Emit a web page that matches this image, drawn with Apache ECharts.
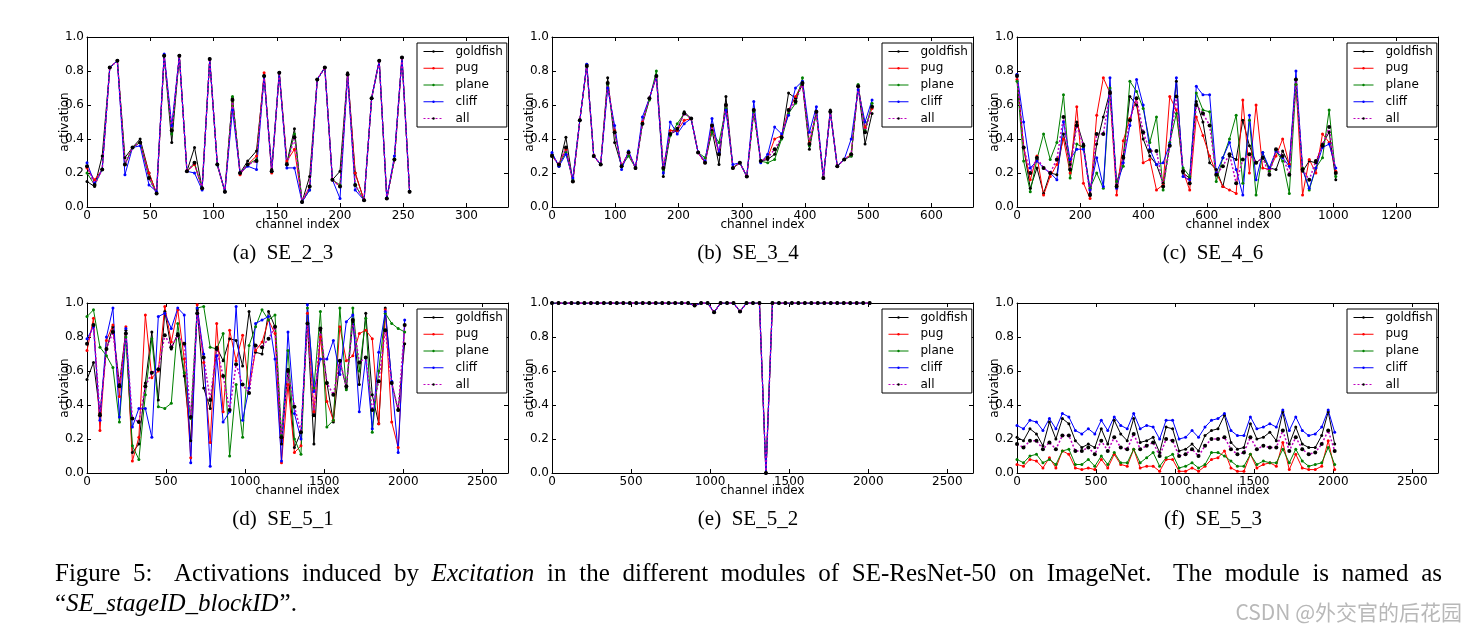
<!DOCTYPE html>
<html><head><meta charset="utf-8">
<script src="https://cdn.jsdelivr.net/npm/echarts@6/dist/echarts.min.js"></script>
<style>html,body{margin:0;padding:0;background:#fff}#c{width:1475px;height:631px}</style>
</head><body><div id="c"></div><script>
// ---------- channel indices (x) ----------
const chA = [0,6,12,18,24,30,36,42,49,55,61,67,73,79,85,91,97,103,109,115,121,127,134,140,146,152,158,164,170,176,182,188,194,200,206,212,219,225,231,237,243,249,255];
const chB = [0,11,22,33,44,55,66,77,88,99,110,121,132,143,154,165,176,187,198,209,220,231,242,253,264,275,286,297,308,319,330,341,352,363,374,385,396,407,418,429,440,451,462,473,484,495,506];
const chC = [0,21,42,63,84,105,126,147,168,189,210,231,252,273,294,315,336,357,378,399,420,441,462,483,504,525,546,567,588,609,630,651,672,693,714,735,756,777,798,819,840,861,882,903,924,945,966,987,1008];
const chD = [0,41,82,123,164,205,246,287,328,369,410,451,492,533,574,615,656,697,738,779,820,861,902,943,984,1025,1066,1107,1148,1189,1230,1271,1312,1353,1394,1435,1476,1517,1558,1599,1640,1681,1722,1763,1804,1845,1886,1927,1968,2009];

// ---------- (a) SE_2_3 ----------
const goldfishA = [0.15,0.12,0.30,0.82,0.86,0.29,0.35,0.40,0.20,0.08,0.89,0.38,0.89,0.21,0.35,0.11,0.87,0.25,0.09,0.64,0.20,0.27,0.33,0.77,0.22,0.79,0.26,0.46,0.03,0.18,0.75,0.82,0.16,0.21,0.79,0.20,0.04,0.64,0.86,0.05,0.28,0.88,0.09];
const pugA      = [0.23,0.16,0.22,0.82,0.86,0.25,0.35,0.38,0.20,0.08,0.89,0.45,0.89,0.21,0.25,0.11,0.87,0.25,0.09,0.63,0.19,0.25,0.30,0.79,0.20,0.79,0.27,0.34,0.03,0.12,0.75,0.82,0.16,0.12,0.78,0.20,0.04,0.64,0.86,0.05,0.28,0.88,0.09];
const planeA    = [0.20,0.13,0.22,0.82,0.86,0.25,0.35,0.38,0.17,0.08,0.89,0.43,0.89,0.21,0.26,0.11,0.87,0.25,0.09,0.65,0.20,0.25,0.28,0.77,0.21,0.79,0.25,0.43,0.03,0.10,0.75,0.82,0.16,0.13,0.78,0.13,0.04,0.64,0.86,0.05,0.28,0.88,0.09];
const cliffA    = [0.26,0.14,0.22,0.82,0.86,0.19,0.35,0.36,0.13,0.09,0.90,0.48,0.89,0.21,0.20,0.10,0.87,0.25,0.09,0.57,0.20,0.24,0.22,0.77,0.21,0.79,0.23,0.23,0.03,0.10,0.75,0.82,0.16,0.05,0.78,0.10,0.04,0.64,0.86,0.05,0.30,0.88,0.09];
const allA      = [0.24,0.13,0.22,0.82,0.86,0.25,0.35,0.38,0.17,0.08,0.89,0.45,0.89,0.21,0.26,0.11,0.87,0.25,0.09,0.63,0.20,0.25,0.27,0.77,0.21,0.79,0.25,0.41,0.03,0.12,0.75,0.82,0.16,0.12,0.78,0.13,0.04,0.64,0.86,0.05,0.28,0.88,0.09];

// ---------- (b) SE_3_4 ----------
const goldfishB = [0.31,0.24,0.41,0.15,0.51,0.84,0.30,0.25,0.76,0.38,0.24,0.32,0.23,0.49,0.64,0.77,0.18,0.43,0.45,0.56,0.52,0.32,0.26,0.45,0.25,0.65,0.23,0.26,0.18,0.57,0.27,0.28,0.31,0.41,0.67,0.64,0.72,0.34,0.56,0.17,0.57,0.24,0.28,0.30,0.71,0.37,0.55];
const pugB      = [0.30,0.25,0.34,0.15,0.51,0.83,0.30,0.25,0.73,0.45,0.24,0.32,0.23,0.50,0.64,0.77,0.23,0.45,0.45,0.51,0.52,0.32,0.26,0.48,0.31,0.60,0.23,0.26,0.18,0.57,0.27,0.29,0.40,0.42,0.57,0.65,0.73,0.38,0.56,0.17,0.56,0.24,0.28,0.31,0.71,0.47,0.58];
const planeB    = [0.30,0.25,0.32,0.16,0.51,0.83,0.30,0.25,0.72,0.44,0.24,0.30,0.23,0.49,0.63,0.80,0.22,0.42,0.49,0.55,0.52,0.32,0.29,0.44,0.38,0.58,0.23,0.26,0.18,0.56,0.27,0.26,0.28,0.40,0.55,0.61,0.76,0.36,0.56,0.17,0.56,0.24,0.28,0.30,0.72,0.45,0.61];
const cliffB    = [0.32,0.24,0.31,0.17,0.51,0.84,0.30,0.25,0.70,0.48,0.22,0.33,0.23,0.53,0.64,0.77,0.20,0.50,0.43,0.49,0.52,0.32,0.27,0.52,0.32,0.57,0.25,0.26,0.18,0.62,0.26,0.31,0.47,0.43,0.54,0.70,0.74,0.44,0.59,0.17,0.56,0.24,0.28,0.40,0.69,0.50,0.63];
const allB      = [0.30,0.25,0.35,0.15,0.51,0.83,0.30,0.25,0.73,0.44,0.24,0.32,0.23,0.49,0.64,0.77,0.23,0.43,0.46,0.55,0.52,0.32,0.26,0.48,0.31,0.60,0.23,0.26,0.18,0.57,0.27,0.29,0.34,0.41,0.57,0.62,0.73,0.37,0.56,0.17,0.56,0.24,0.28,0.31,0.71,0.44,0.59];

// ---------- (c) SE_4_6 ----------
const goldfishC = [0.78,0.35,0.11,0.23,0.08,0.20,0.19,0.43,0.25,0.50,0.37,0.08,0.37,0.53,0.68,0.13,0.30,0.65,0.60,0.40,0.30,0.25,0.14,0.36,0.74,0.20,0.17,0.62,0.50,0.26,0.22,0.12,0.30,0.28,0.51,0.36,0.26,0.29,0.23,0.22,0.33,0.25,0.75,0.21,0.27,0.26,0.37,0.44,0.16];
const pugC      = [0.75,0.35,0.16,0.30,0.07,0.18,0.25,0.40,0.20,0.59,0.14,0.05,0.54,0.76,0.67,0.07,0.39,0.52,0.64,0.26,0.28,0.10,0.13,0.65,0.57,0.21,0.10,0.53,0.42,0.30,0.20,0.12,0.10,0.08,0.63,0.20,0.60,0.23,0.22,0.30,0.40,0.25,0.72,0.07,0.28,0.20,0.43,0.38,0.21];
const planeC    = [0.74,0.27,0.09,0.28,0.43,0.28,0.38,0.66,0.17,0.37,0.35,0.11,0.20,0.11,0.70,0.15,0.24,0.74,0.68,0.58,0.38,0.53,0.10,0.38,0.55,0.23,0.18,0.67,0.57,0.56,0.15,0.29,0.40,0.54,0.14,0.51,0.07,0.32,0.21,0.33,0.27,0.08,0.72,0.23,0.10,0.23,0.29,0.57,0.18];
const cliffC    = [0.78,0.50,0.23,0.27,0.23,0.20,0.16,0.50,0.28,0.34,0.34,0.10,0.29,0.12,0.76,0.11,0.26,0.48,0.75,0.60,0.34,0.25,0.26,0.37,0.76,0.18,0.16,0.71,0.66,0.66,0.20,0.29,0.38,0.22,0.07,0.54,0.16,0.32,0.23,0.33,0.29,0.24,0.80,0.22,0.11,0.23,0.35,0.37,0.23];
const allC      = [0.77,0.35,0.20,0.29,0.23,0.20,0.28,0.53,0.22,0.48,0.36,0.07,0.43,0.43,0.67,0.12,0.29,0.51,0.64,0.44,0.33,0.33,0.12,0.36,0.65,0.21,0.14,0.60,0.55,0.48,0.19,0.24,0.31,0.14,0.28,0.31,0.26,0.29,0.19,0.34,0.30,0.19,0.75,0.22,0.16,0.27,0.36,0.47,0.20];

// ---------- (d) SE_5_1 ----------
const goldfishD = [0.55,0.65,0.35,0.73,0.86,0.52,0.84,0.12,0.17,0.53,0.83,0.43,0.95,0.73,0.82,0.57,0.19,0.96,0.50,0.38,0.74,0.66,0.79,0.78,0.63,0.95,0.71,0.70,0.95,0.86,0.17,0.61,0.15,0.24,0.88,0.17,0.84,0.53,0.30,0.66,0.50,0.89,0.52,0.94,0.46,0.29,0.97,0.53,0.37,0.76];
const pugD      = [0.72,0.91,0.25,0.78,0.87,0.45,0.86,0.07,0.21,0.93,0.56,0.60,0.98,0.77,0.96,0.67,0.09,0.99,0.65,0.18,0.88,0.36,0.84,0.66,0.81,0.50,0.72,0.77,0.90,0.82,0.06,0.52,0.12,0.16,0.94,0.36,0.80,0.42,0.31,0.86,0.66,0.69,0.82,0.84,0.79,0.29,0.96,0.30,0.15,0.87];
const planeD    = [0.92,0.96,0.74,0.69,0.62,0.30,0.80,0.16,0.08,0.46,0.79,0.39,0.38,0.41,0.88,0.59,0.32,0.97,0.98,0.74,0.73,0.82,0.10,0.52,0.21,0.75,0.86,0.96,0.90,0.93,0.22,0.72,0.20,0.11,0.97,0.50,0.95,0.27,0.31,0.97,0.49,0.97,0.60,0.91,0.24,0.60,0.94,0.88,0.85,0.83];
const cliffD    = [0.79,0.86,0.31,0.80,0.97,0.33,0.85,0.27,0.38,0.38,0.21,0.92,0.94,0.85,0.97,0.93,0.06,0.97,0.70,0.04,0.69,0.30,0.36,0.98,0.31,0.50,0.88,0.90,0.92,0.67,0.07,0.83,0.35,0.20,0.99,0.48,0.67,0.67,0.78,0.58,0.89,0.93,0.36,0.68,0.26,0.71,0.95,0.54,0.12,0.90];
const allD      = [0.76,0.87,0.34,0.73,0.83,0.51,0.82,0.32,0.30,0.51,0.59,0.61,0.81,0.74,0.81,0.76,0.33,0.94,0.68,0.43,0.73,0.57,0.37,0.64,0.52,0.47,0.75,0.74,0.79,0.86,0.21,0.60,0.39,0.24,0.88,0.34,0.85,0.53,0.46,0.66,0.51,0.90,0.65,0.68,0.37,0.54,0.84,0.53,0.37,0.87];

// ---------- (e) SE_5_2 (all five classes coincide) ----------
const sharedE   = [1.00,1.00,1.00,1.00,1.00,1.00,1.00,1.00,1.00,1.00,1.00,1.00,1.00,1.00,1.00,1.00,1.00,1.00,1.00,1.00,1.00,1.00,0.985,1.00,1.00,0.945,1.00,1.00,1.00,0.95,1.00,1.00,1.00,0.00,1.00,1.00,1.00,1.00,1.00,1.00,1.00,1.00,1.00,1.00,1.00,1.00,1.00,1.00,1.00,1.00];

// ---------- (f) SE_5_3 ----------
const goldfishF = [0.21,0.19,0.26,0.23,0.16,0.30,0.20,0.32,0.29,0.19,0.15,0.17,0.15,0.26,0.17,0.31,0.23,0.19,0.32,0.18,0.19,0.21,0.12,0.27,0.26,0.13,0.14,0.17,0.13,0.22,0.25,0.26,0.34,0.18,0.14,0.15,0.29,0.20,0.21,0.24,0.19,0.36,0.17,0.27,0.17,0.15,0.15,0.22,0.36,0.17];
const pugF      = [0.05,0.04,0.08,0.07,0.03,0.09,0.03,0.13,0.11,0.03,0.02,0.03,0.02,0.08,0.03,0.11,0.05,0.04,0.14,0.03,0.04,0.04,0.01,0.08,0.08,0.01,0.01,0.03,0.01,0.04,0.08,0.09,0.13,0.03,0.01,0.01,0.11,0.03,0.05,0.06,0.04,0.18,0.02,0.11,0.03,0.02,0.02,0.04,0.19,0.02];
const planeF    = [0.08,0.06,0.10,0.11,0.06,0.08,0.05,0.13,0.14,0.05,0.05,0.08,0.04,0.10,0.05,0.12,0.06,0.06,0.14,0.06,0.09,0.12,0.04,0.09,0.11,0.03,0.04,0.06,0.03,0.05,0.12,0.12,0.10,0.07,0.04,0.04,0.11,0.05,0.07,0.06,0.06,0.14,0.06,0.14,0.07,0.04,0.05,0.06,0.15,0.05];
const cliffF    = [0.28,0.26,0.31,0.30,0.25,0.32,0.26,0.35,0.33,0.25,0.23,0.26,0.23,0.31,0.25,0.33,0.28,0.26,0.35,0.26,0.28,0.27,0.20,0.31,0.31,0.20,0.21,0.25,0.21,0.27,0.31,0.32,0.35,0.25,0.22,0.22,0.33,0.26,0.27,0.29,0.27,0.37,0.25,0.33,0.25,0.22,0.23,0.27,0.37,0.24];
const allF      = [0.17,0.15,0.19,0.19,0.14,0.18,0.14,0.22,0.22,0.13,0.13,0.15,0.11,0.19,0.13,0.21,0.15,0.14,0.23,0.14,0.16,0.18,0.10,0.20,0.19,0.10,0.11,0.14,0.10,0.16,0.20,0.20,0.21,0.14,0.11,0.12,0.21,0.14,0.16,0.15,0.15,0.25,0.13,0.21,0.14,0.11,0.12,0.17,0.25,0.13];

const seriesNames = ['goldfish','pug','plane','cliff','all'];
const subCaptions = ['(a)  SE_2_3','(b)  SE_3_4','(c)  SE_4_6','(d)  SE_5_1','(e)  SE_5_2','(f)  SE_5_3'];
const xMaxes = [332.8, 665.6, 1331.2, 2662.4, 2662.4, 2662.4];
const xIntervals = [50, 100, 200, 500, 500, 500];

const panels = [
  {x: chA, vals: [goldfishA, pugA, planeA, cliffA, allA]},
  {x: chB, vals: [goldfishB, pugB, planeB, cliffB, allB]},
  {x: chC, vals: [goldfishC, pugC, planeC, cliffC, allC]},
  {x: chD, vals: [goldfishD, pugD, planeD, cliffD, allD]},
  {x: chD, vals: [sharedE, sharedE, sharedE, sharedE, sharedE]},
  {x: chD, vals: [goldfishF, pugF, planeF, cliffF, allF]}
];

const styles = {
  goldfish: {line: '#000000', dot: '#000000', type: 'solid', w: 1, s: 3},
  pug:      {line: '#ff0000', dot: '#ff0000', type: 'solid', w: 1, s: 3},
  plane:    {line: '#008000', dot: '#008000', type: 'solid', w: 1, s: 3},
  cliff:    {line: '#0000ff', dot: '#0000ff', type: 'solid', w: 1, s: 3},
  all:      {line: '#bf00bf', dot: '#000000', type: [2, 2], w: 1.5, s: 4}
};

const lefts = [87, 552, 1017], tops = [37, 303], W = 421, H = 170;
const TF = 'DejaVu Sans';
const grid = [], xAxis = [], yAxis = [], series = [], legend = [], graphic = [];

panels.forEach((p, k) => {
  const col = k % 3, row = Math.floor(k / 3);
  const left = lefts[col], top = tops[row];
  grid.push({left: left, top: top, width: W, height: H});
  const axisLine = {show: true, onZero: false, lineStyle: {color: '#000', width: 1}};
  const tick = {show: true, inside: true, length: 4, lineStyle: {color: '#000', width: 1}};
  const common = {gridIndex: k, type: 'value', axisLine: axisLine, axisTick: tick, splitLine: {show: false}};
  xAxis.push(Object.assign({}, common, {
    position: 'bottom', min: 0, max: xMaxes[k], interval: xIntervals[k],
    axisLabel: {margin: 3, color: '#000', fontSize: 12, fontFamily: TF, showMaxLabel: false, formatter: v => String(v)},
    name: 'channel index', nameLocation: 'middle', nameGap: 12, nameMoveOverlap: false,
    nameTextStyle: {color: '#000', fontSize: 12, fontFamily: TF}
  }));
  xAxis.push(Object.assign({}, common, {
    position: 'top', min: 0, max: xMaxes[k], interval: xIntervals[k], axisLabel: {show: false}
  }));
  yAxis.push(Object.assign({}, common, {
    position: 'left', min: 0, max: 1, interval: 0.2,
    axisLabel: {margin: 3, color: '#000', fontSize: 12, fontFamily: TF, formatter: v => v.toFixed(1)},
    name: 'activation', nameLocation: 'middle', nameGap: 16, nameMoveOverlap: false,
    nameTextStyle: {color: '#000', fontSize: 12, fontFamily: TF}
  }));
  yAxis.push(Object.assign({}, common, {
    position: 'right', min: 0, max: 1, interval: 0.2, axisLabel: {show: false}
  }));
  seriesNames.forEach((n, s) => {
    const st = styles[n];
    series.push({
      type: 'line', name: n, xAxisIndex: 2 * k, yAxisIndex: 2 * k,
      data: p.x.map((c, i) => [c, p.vals[s][i]]),
      symbol: 'circle', symbolSize: st.s, showSymbol: true,
      lineStyle: {color: st.line, width: st.w, type: st.type},
      itemStyle: {color: st.dot, borderWidth: 0},
      emphasis: {disabled: true}, silent: true, animation: false
    });
  });
  legend.push({
    left: left + 330, top: top + 6, orient: 'vertical',
    itemWidth: 20, itemHeight: 3, itemGap: 4.75,
    padding: [2.5, 4, 2.5, 6], borderColor: '#000', borderWidth: 1, backgroundColor: '#fff',
    lineStyle: {width: 1}, itemStyle: {borderWidth: 0},
    textStyle: {fontSize: 12, fontFamily: TF, color: '#000', padding: [0, 0, 0, 7], lineHeight: 12},
    selectedMode: false, data: seriesNames
  });
  graphic.push({
    type: 'text', x: left + 196, y: top + H + 46, silent: true,
    style: {text: subCaptions[k], fontSize: 21, fontFamily: 'Liberation Serif', fill: '#000', align: 'center', verticalAlign: 'middle'}
  });
});

// ---------- figure caption (justified first line) ----------
const CF = 25;
const ctx = document.createElement('canvas').getContext('2d');
function mw(t, it) { ctx.font = (it ? 'italic ' : '') + CF + 'px "Liberation Serif"'; return ctx.measureText(t).width; }
const line1 = [['Figure',0,1],['5:',0,1.7],['Activations',0,1],['induced',0,1],['by',0,1],['Excitation',1,1],['in',0,1],['the',0,1],['different',0,1],['modules',0,1],['of',0,1],['SE-ResNet-50',0,1],['on',0,1],['ImageNet.',0,1.7],['The',0,1],['module',0,1],['is',0,1],['named',0,1],['as',0,0]];
const L1x0 = 55, L1x1 = 1442;
let wsum = 0, gsum = 0;
line1.forEach(w => { wsum += mw(w[0], w[1]); gsum += w[2]; });
const unit = (L1x1 - L1x0 - wsum) / gsum;
let cx = L1x0;
line1.forEach(w => {
  graphic.push({type: 'text', x: cx, y: 574, silent: true,
    style: {text: w[0], fontSize: CF, fontFamily: 'Liberation Serif', fontStyle: w[1] ? 'italic' : 'normal', fill: '#000', align: 'left', verticalAlign: 'middle'}});
  cx += mw(w[0], w[1]) + unit * w[2];
});
const line2 = [['\u201C',0],['SE_stageID_blockID',1],['\u201D.',0]];
cx = 55;
line2.forEach(w => {
  graphic.push({type: 'text', x: cx, y: 604, silent: true,
    style: {text: w[0], fontSize: CF, fontFamily: 'Liberation Serif', fontStyle: w[1] ? 'italic' : 'normal', fill: '#000', align: 'left', verticalAlign: 'middle'}});
  cx += mw(w[0], w[1]) + (w[1] ? 1 : 0);
});
graphic.push({type: 'text', x: 1462, y: 612, silent: true,
  style: {text: 'CSDN @外交官的后花园', fontSize: 21, fontFamily: '"Noto Sans CJK SC"', fill: '#b8b8b8', align: 'right', verticalAlign: 'middle'}});

const chart = echarts.init(document.getElementById('c'), null, {renderer: 'canvas'});
chart.setOption({
  backgroundColor: '#fff', animation: false,
  grid: grid, xAxis: xAxis, yAxis: yAxis, series: series, legend: legend, graphic: graphic
});
</script></body></html>
